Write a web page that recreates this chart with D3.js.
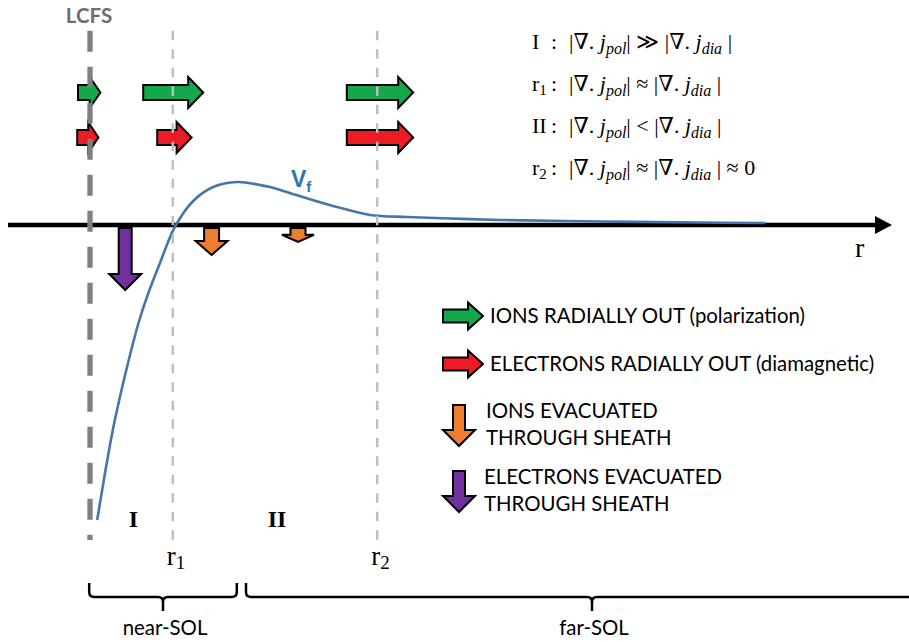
<!DOCTYPE html>
<html>
<head>
<meta charset="utf-8">
<script src="https://cdn.jsdelivr.net/npm/d3@7"></script>
<style>
body { margin: 0; background: #fff; }
svg { display: block; }
</style>
</head>
<body>
<script>
// floating potential Vf across the SOL (schematic units, r = 0 at the LCFS)
var vfR = [0.9, 1.9, 2.9, 4.0, 5.0, 6.1, 7.25, 8.75, 10.6, 12.9, 15.4, 18.4, 21.25, 22.5, 26.6, 30.9, 35, 39.6, 45, 51.25, 63.75, 76.25, 84.4];
var vfV = [-2.95, -2.47, -2.03, -1.63, -1.30, -0.97, -0.69, -0.38, -0.02, 0.24, 0.38, 0.43, 0.40, 0.38, 0.28, 0.18, 0.10, 0.08, 0.065, 0.05, 0.035, 0.025, 0.02];

var markerNames = ["LCFS", "r", "r"];
var markerSubs = ["", "1", "2"];
var markerR = [0, 10.35, 35.9];

// radial fluxes: [from, to]
var ionOut = [[-1.5, 1.3], [6.65, 14.15], [32.1, 40.4]];
var elecOut = [[-1.6, 1.05], [8.4, 12.7], [32.1, 40.4]];

// parallel losses through the sheath
var ionSheathR = [15.2, 26];
var ionSheathV = [-0.30, -0.17];
var elecSheathR = [4.4];
var elecSheathV = [-0.65];

var zones = ["I", "II"];
var regions = ["near-SOL", "far-SOL"];
var regionFrom = [-0.1, 19.5];
var regionTo = [18.35, 106];

var eqLabels = ["I", "r", "II", "r"];
var eqSubs = ["", "1", "", "2"];
var eqRel = ["\u226B", "\u2248", "<", "\u2248"];
var eqTail = ["", "", "", " \u2248 0"];

var legendText = [["IONS RADIALLY OUT (polarization)"], ["ELECTRONS RADIALLY OUT (diamagnetic)"],
  ["IONS EVACUATED", "THROUGH SHEATH"], ["ELECTRONS EVACUATED", "THROUGH SHEATH"]];
var legendKind = ["right", "right", "down", "down"];

var green = "#13a84b", red = "#ed1c24", orange = "#ed7d31", purple = "#7030a0";
var legendColor = [green, red, orange, purple];

var width = 909, height = 642;

var svg = d3.select("body").append("svg")
  .attr("width", width)
  .attr("height", height);

var x = d3.scaleLinear().domain([0, 100]).range([90, 890]);
var y = d3.scaleLinear().domain([-3, 1]).range([525, 125]);

function rightArrow(x0, x1, cy, shaft, head) {
  var hl = Math.min(15, (x1 - x0) * 0.48), hb = x1 - hl;
  return "M" + x0 + "," + (cy - shaft / 2) + "H" + hb + "V" + (cy - head / 2) + "L" + x1 + "," + cy +
    "L" + hb + "," + (cy + head / 2) + "V" + (cy + shaft / 2) + "H" + x0 + "Z";
}
function downArrow(cx, y0, y1, shaft, head) {
  var hl = Math.min(16, (y1 - y0) * 0.52), hb = y1 - hl;
  return "M" + (cx - shaft / 2) + "," + y0 + "V" + hb + "H" + (cx - head / 2) + "L" + cx + "," + y1 +
    "L" + (cx + head / 2) + "," + hb + "H" + (cx + shaft / 2) + "V" + y0 + "Z";
}

var arrows = svg.append("g").attr("stroke", "#000").attr("stroke-width", 2);

arrows.selectAll(".ion").data(ionOut).enter().append("path")
  .attr("fill", green)
  .attr("d", function (d) { return rightArrow(x(d[0]), x(d[1]), 92.5, 15, 31); });
arrows.selectAll(".ele").data(elecOut).enter().append("path")
  .attr("fill", red)
  .attr("d", function (d) { return rightArrow(x(d[0]), x(d[1]), 137.5, 15, 31); });
arrows.selectAll(".isheath").data(ionSheathR).enter().append("path")
  .attr("fill", orange)
  .attr("d", function (d, i) { return downArrow(x(d), y(0) + 3, y(ionSheathV[i]), 15, 32); });
arrows.selectAll(".esheath").data(elecSheathR).enter().append("path")
  .attr("fill", purple)
  .attr("d", function (d, i) { return downArrow(x(d), y(0) + 3, y(elecSheathV[i]), 13, 32); });

// r axis
svg.append("line")
  .attr("x1", 8).attr("x2", 876)
  .attr("y1", y(0)).attr("y2", y(0))
  .attr("stroke", "#000").attr("stroke-width", 4.5);
svg.append("path")
  .attr("d", "M875," + (y(0) - 9) + "L892," + y(0) + "L875," + (y(0) + 9) + "Z")
  .attr("fill", "#000");

// Vf curve
var line = d3.line()
  .x(function (d, i) { return x(vfR[i]); })
  .y(function (d) { return y(d); })
  .curve(d3.curveCatmullRom);
svg.append("path")
  .attr("d", line(vfV))
  .attr("fill", "none")
  .attr("stroke", "#4675a8")
  .attr("stroke-width", 2.6);

// vertical markers
svg.selectAll(".marker").data(markerR).enter().append("line")
  .attr("x1", function (d) { return x(d); })
  .attr("x2", function (d) { return x(d); })
  .attr("y1", 30.7).attr("y2", 540)
  .attr("stroke", function (d, i) { return i == 0 ? "#7f7f7f" : "#bfbfbf"; })
  .attr("stroke-width", function (d, i) { return i == 0 ? 5.3 : 2.5; })
  .attr("stroke-dasharray", function (d, i) { return i == 0 ? "21,15" : "9.5,9"; });

svg.append("text")
  .attr("x", x(markerR[0]) - 1).attr("y", 23)
  .attr("text-anchor", "middle")
  .attr("font-family", "Lato").attr("font-weight", "bold").attr("font-size", 20.5)
  .attr("fill", "#6e6e6e")
  .text(markerNames[0]);

markerR.slice(1).forEach(function (d, i) {
  var t = svg.append("text")
    .attr("x", x(d) - 6).attr("y", 565)
    .attr("font-family", "Liberation Serif").attr("font-size", 27).attr("fill", "#000");
  t.append("tspan").text(markerNames[i + 1]);
  t.append("tspan").attr("font-size", 19).attr("dy", 4).text(markerSubs[i + 1]);
});

// zone labels between markers
svg.selectAll(".zone").data(zones).enter().append("text")
  .attr("x", function (d, i) { return x((markerR[i] + markerR[i + 1]) / 2) + 2; })
  .attr("y", 527)
  .attr("text-anchor", "middle")
  .attr("font-family", "Liberation Serif").attr("font-weight", "bold").attr("font-size", 24)
  .text(function (d) { return d; });

// axis label and Vf label
svg.append("text")
  .attr("x", 855).attr("y", 257)
  .attr("font-family", "Liberation Serif").attr("font-size", 28)
  .text("r");
var vf = svg.append("text")
  .attr("x", 291).attr("y", 187)
  .attr("font-family", "Liberation Sans").attr("font-weight", "bold").attr("font-size", 23)
  .attr("fill", "#2e75b6");
vf.append("tspan").text("V");
vf.append("tspan").attr("font-size", 15).attr("dy", 5).text("f");

// braces
function brace(x0, x1) {
  var xm = (x0 + x1) / 2, r = 5, top = 583, mid = 597, bot = 611;
  return "M" + x0 + "," + top + "V" + (mid - r) + "Q" + x0 + "," + mid + " " + (x0 + r) + "," + mid +
    "H" + (xm - r) + "Q" + xm + "," + mid + " " + xm + "," + (mid + r) + "V" + bot +
    "M" + xm + "," + (mid + r) + "Q" + xm + "," + mid + " " + (xm + r) + "," + mid +
    "H" + (x1 - r) + "Q" + x1 + "," + mid + " " + x1 + "," + (mid - r) + "V" + top;
}
svg.selectAll(".brace").data(regions).enter().append("path")
  .attr("d", function (d, i) { return brace(x(regionFrom[i]), x(regionTo[i])); })
  .attr("fill", "none").attr("stroke", "#000").attr("stroke-width", 2.5);
svg.selectAll(".region").data(regions).enter().append("text")
  .attr("x", function (d, i) { return x((regionFrom[i] + regionTo[i]) / 2) + 2; })
  .attr("y", 635)
  .attr("text-anchor", "middle")
  .attr("font-family", "Lato").attr("font-size", 20.4)
  .text(function (d) { return d; });

// criteria
eqLabels.forEach(function (lab, i) {
  var t = svg.append("text")
    .attr("x", 532).attr("y", 48.5 + i * 42.2)
    .attr("font-family", "Liberation Serif, DejaVu Serif").attr("font-size", 22);
  t.append("tspan").text(lab);
  if (eqSubs[i]) t.append("tspan").attr("font-size", 15).attr("dy", 4).text(eqSubs[i]);
  t.append("tspan").attr("x", 551).attr("dy", eqSubs[i] ? -4 : 0).text(":");
  t.append("tspan").attr("x", 569).text("|");
  t.append("tspan").attr("font-style", "italic").text("\u2207");
  t.append("tspan").text(".");
  t.append("tspan").attr("font-style", "italic").text(" j");
  t.append("tspan").attr("font-style", "italic").attr("font-size", 16).attr("dy", 5).text("pol");
  t.append("tspan").attr("dy", -5).text("| " + eqRel[i] + " |");
  t.append("tspan").attr("font-style", "italic").text("\u2207");
  t.append("tspan").text(".");
  t.append("tspan").attr("font-style", "italic").text(" j");
  t.append("tspan").attr("font-style", "italic").attr("font-size", 16).attr("dy", 5).text("dia");
  t.append("tspan").attr("dy", -5).text(" |" + eqTail[i]);
});

// legend
var legendY = [316, 364, 425, 491];
legendKind.forEach(function (k, i) {
  var cy = legendY[i];
  arrows.append("path")
    .attr("fill", legendColor[i])
    .attr("d", k == "right" ? rightArrow(443, 483, cy, 13, 27) : downArrow(459, cy - 20, cy + 21, 12, 32));
  var tx = k == "right" ? 490 : 486 - (i == 3 ? 2 : 0);
  legendText[i].forEach(function (s, j) {
    svg.append("text")
      .attr("x", tx)
      .attr("y", k == "right" ? cy + 7 : cy - 7 + j * 26.5)
      .attr("font-family", "Lato").attr("font-size", 20.4)
      .text(s);
  });
});
</script>
</body>
</html>
